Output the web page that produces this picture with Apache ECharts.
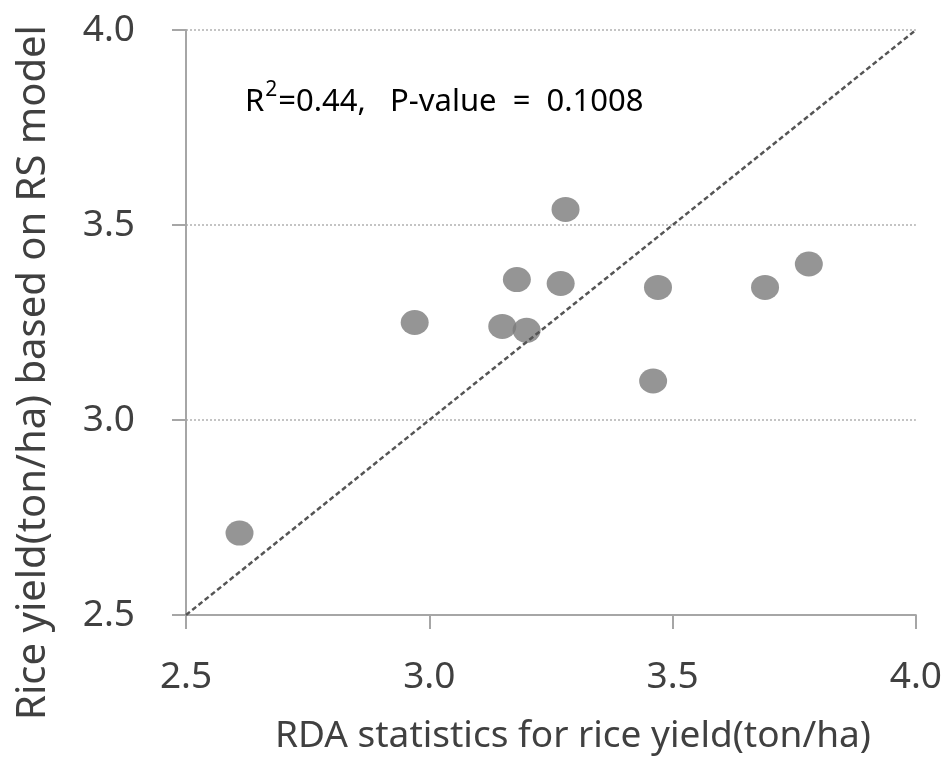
<!DOCTYPE html>
<html>
<head>
<meta charset="utf-8">
<script src="https://cdn.jsdelivr.net/npm/echarts@6/dist/echarts.min.js"></script>
<style>html,body{margin:0;padding:0;background:#fff;}#c{width:945px;height:781px;}</style>
</head>
<body>
<div id="c"></div>
<script>
const rdaYield = [2.61, 2.97, 3.15, 3.20, 3.18, 3.27, 3.28, 3.47, 3.46, 3.69, 3.78];
const rsYield  = [2.71, 3.25, 3.24, 3.23, 3.36, 3.35, 3.54, 3.34, 3.10, 3.34, 3.40];
const oneToOne = [[2.5, 2.5], [4.0, 4.0]];
const axisMin = 2.5, axisMax = 4.0, axisStep = 0.5;
const xTitle = 'RDA statistics for rice yield(ton/ha)';
const yTitle = 'Rice yield(ton/ha) based on RS model';

const FONT = '"Noto Sans", "DejaVu Sans", sans-serif';
const chart = echarts.init(document.getElementById('c'), null, {renderer: 'canvas'});
const pts = rdaYield.map((x, i) => [x, rsYield[i]]);

chart.setOption({
  animation: false,
  backgroundColor: '#ffffff',
  grid: {left: 186, right: 22, top: 30, bottom: 166, containLabel: false},
  xAxis: {
    type: 'value', min: axisMin, max: axisMax, interval: axisStep,
    name: xTitle, nameLocation: 'middle', nameGap: 103,
    nameTextStyle: {fontFamily: FONT, fontSize: 37, color: '#404040', padding: [0, 0, 0, 44]},
    axisLine: {show: true, lineStyle: {color: '#a6a6a6', width: 2}},
    axisTick: {show: true, length: 14, lineStyle: {color: '#a6a6a6', width: 2}},
    axisLabel: {margin: 44, fontFamily: FONT, fontSize: 37, color: '#404040',
      formatter: v => v.toFixed(1)},
    splitLine: {show: false}
  },
  yAxis: {
    type: 'value', min: axisMin, max: axisMax, interval: axisStep,
    name: yTitle, nameLocation: 'middle', nameGap: 132,
    nameTextStyle: {fontFamily: FONT, fontSize: 40, color: '#404040', padding: [0, 100, 0, 0]},
    axisLine: {show: true, lineStyle: {color: '#a6a6a6', width: 2}},
    axisTick: {show: true, length: 14, lineStyle: {color: '#a6a6a6', width: 2}},
    axisLabel: {margin: 51, fontFamily: FONT, fontSize: 37, color: '#404040',
      formatter: v => v.toFixed(1)},
    splitLine: {show: true, lineStyle: {color: '#c4c4c4', width: 2, type: [2, 2]}}
  },
  graphic: [{
    type: 'text', left: 245, top: 78, z: 10,
    style: {
      text: '{a|R}{b|2}{a|=0.44,   P-value  =  0.1008}',
      rich: {
        a: {fontFamily: FONT, fontSize: 31, color: '#111', lineHeight: 40, verticalAlign: 'bottom'},
        b: {fontFamily: FONT, fontSize: 21, color: '#111', lineHeight: 40, verticalAlign: 'top', padding: [2, 1, 0, 1]}
      }
    }
  }],
  series: [
    {
      type: 'scatter', data: pts, symbol: 'circle', symbolSize: [28, 25],
      itemStyle: {color: '#7a7a7a'}, z: 2
    },
    {
      type: 'line', data: oneToOne, symbol: 'none', silent: true, z: 3,
      lineStyle: {color: '#555555', width: 2.5, type: [5, 3]}
    }
  ]
});
</script>
</body>
</html>
